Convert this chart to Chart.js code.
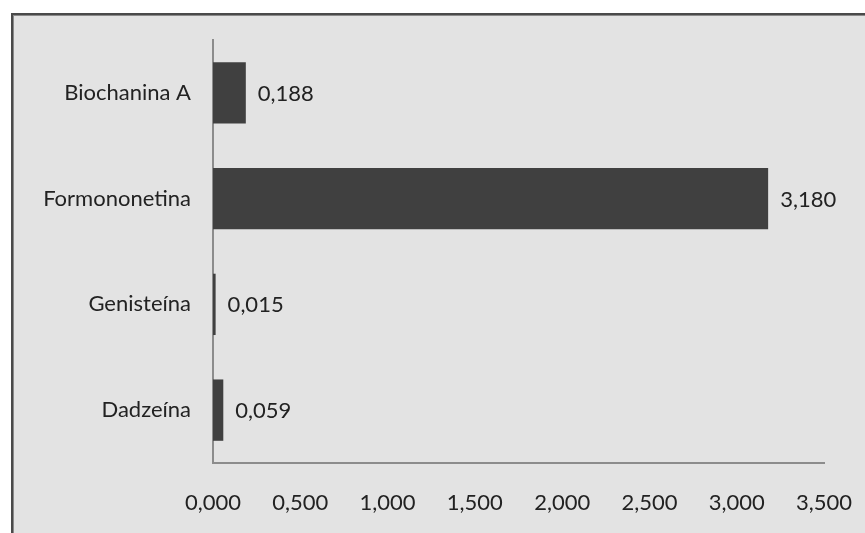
<!DOCTYPE html>
<html>
<head>
<meta charset="utf-8">
<script src="https://cdn.jsdelivr.net/npm/chart.js@4"></script>
<style>
  html, body { margin: 0; padding: 0; background: #fff; }
  #wrap { position: relative; width: 865px; height: 533px; }
</style>
</head>
<body>
<div id="wrap"><canvas id="isoChart" width="865" height="533"></canvas></div>
<script>
const compounds = ['Biochanina A', 'Formononetina', 'Genisteína', 'Dadzeína'];
const amounts = [0.188, 3.180, 0.015, 0.059];
const xTicks = [0, 0.5, 1, 1.5, 2, 2.5, 3, 3.5];

const fmt = v => v.toFixed(3).replace('.', ',');
const FONT = 'Lato, "Open Sans", sans-serif';
const FSIZE = 22;

// grey panel with a dark frame on top/left
const panel = {
  id: 'panel',
  beforeDraw(chart) {
    const c = chart.ctx;
    c.save();
    c.fillStyle = '#ffffff';
    c.fillRect(0, 0, chart.width, chart.height);
    c.fillStyle = '#e3e3e3';
    c.fillRect(12, 14, chart.width - 12, chart.height - 14);
    c.fillStyle = '#4a4a4a';
    c.fillRect(11, 13, chart.width - 11, 2);
    c.fillRect(11, 13, 2, chart.height - 13);
    c.fillStyle = '#8a8a8a';
    c.fillRect(13, 15, chart.width - 13, 1);
    c.fillRect(13, 15, 1, chart.height - 15);
    c.restore();
  }
};

// value labels to the right of each bar
const valueLabels = {
  id: 'valueLabels',
  afterDatasetsDraw(chart) {
    const c = chart.ctx;
    const meta = chart.getDatasetMeta(0);
    c.save();
    c.font = FSIZE + 'px ' + FONT;
    c.fillStyle = '#222';
    c.textBaseline = 'middle';
    c.textAlign = 'left';
    meta.data.forEach((bar, i) => {
      c.fillText(fmt(amounts[i]), bar.x + 12, bar.y + 1);
    });
    c.restore();
  }
};

new Chart(document.getElementById('isoChart'), {
  type: 'bar',
  data: {
    labels: compounds,
    datasets: [{
      data: amounts,
      backgroundColor: '#404040',
      borderWidth: 0,
      categoryPercentage: 1,
      barPercentage: 0.58
    }]
  },
  options: {
    indexAxis: 'y',
    responsive: false,
    animation: false,
    layout: { padding: { top: 40, right: 41, left: 0, bottom: 0 } },
    plugins: { legend: { display: false }, tooltip: { enabled: false } },
    scales: {
      x: {
        min: 0,
        max: 3.5,
        afterBuildTicks: s => { s.ticks = xTicks.map(v => ({ value: v })); },
        afterFit: s => { s.height = 70; s.paddingLeft = 0; s.paddingRight = 0; },
        grid: { display: false, drawTicks: false },
        border: { display: true, color: '#8c8c8c', width: 2 },
        ticks: {
          padding: 27,
          color: '#222',
          font: { family: FONT, size: FSIZE },
          callback: v => fmt(v),
          maxRotation: 0
        }
      },
      y: {
        afterFit: s => { s.width = 213; },
        grid: { display: false, drawTicks: false },
        border: { display: true, color: '#8c8c8c', width: 2 },
        ticks: {
          padding: 22,
          color: '#222',
          font: { family: FONT, size: FSIZE }
        }
      }
    }
  },
  plugins: [panel, valueLabels]
});
</script>
</body>
</html>
